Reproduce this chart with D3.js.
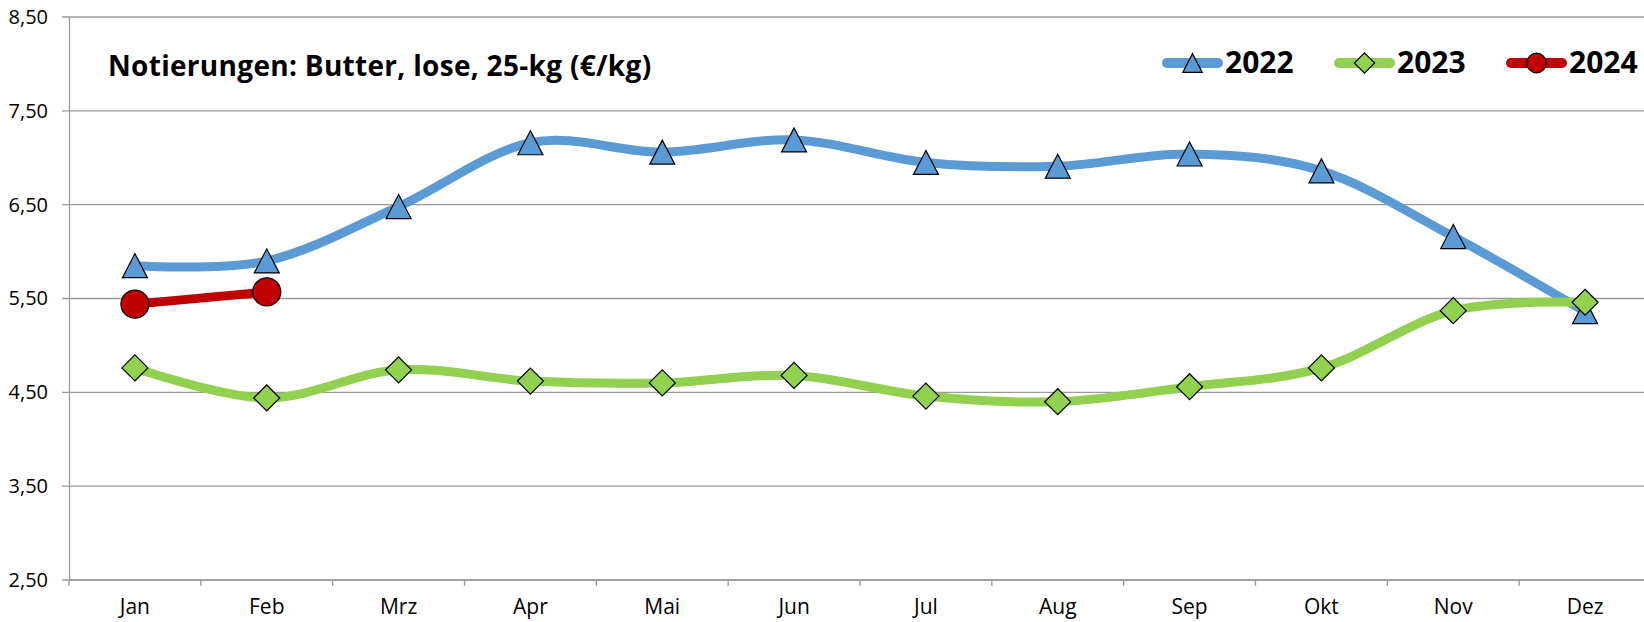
<!DOCTYPE html>
<html>
<head>
<meta charset="utf-8">
<script src="https://cdn.jsdelivr.net/npm/d3@7"></script>
<style>
  html, body { margin: 0; padding: 0; background: #fff; overflow: hidden; }
  text { font-family: "Open Sans", "Noto Sans", sans-serif; }
</style>
</head>
<body>
<div id="chart"></div>
<script>
// daten
const months = ["Jan", "Feb", "Mrz", "Apr", "Mai", "Jun", "Jul", "Aug", "Sep", "Okt", "Nov", "Dez"];
const values2022 = [5.85, 5.90, 6.48, 7.16, 7.06, 7.19, 6.95, 6.91, 7.04, 6.86, 6.16, 5.36];
const values2023 = [4.76, 4.44, 4.74, 4.62, 4.60, 4.68, 4.46, 4.40, 4.56, 4.76, 5.37, 5.46];
const values2024 = [5.44, 5.57];
const yTicks = [2.5, 3.5, 4.5, 5.5, 6.5, 7.5, 8.5];
const chartTitle = "Notierungen: Butter, lose, 25-kg (€/kg)";

const W = 1644, H = 622;
const margin = {top: 17, left: 69, bottom: 42};
const plotRight = 1651;  // rechte Kante liegt knapp ausserhalb des Bildes

const series = [
  {name: "2022", values: values2022, color: "#5B9BD5", width: 9, marker: "triangle"},
  {name: "2023", values: values2023, color: "#92D050", width: 9, marker: "diamond"},
  {name: "2024", values: values2024, color: "#C00000", width: 9, marker: "circle"}
];

const svg = d3.select("#chart").append("svg")
  .attr("width", W).attr("height", H);

const x = d3.scaleBand().domain(months).range([margin.left, plotRight]);
const y = d3.scaleLinear().domain([2.5, 8.5]).range([H - margin.bottom, margin.top]);
const cx = m => x(m) + x.bandwidth() / 2;

// gitterlinien
svg.append("g").selectAll("line")
  .data(yTicks)
  .join("line")
  .attr("x1", margin.left - 7).attr("x2", W)
  .attr("y1", d => y(d)).attr("y2", d => y(d))
  .attr("stroke", "#9a9a9a").attr("stroke-width", 1.3);

// y-achse
svg.append("g")
  .attr("transform", "translate(" + margin.left + ",0)")
  .call(d3.axisLeft(y).tickValues(yTicks).tickSize(0).tickPadding(21)
    .tickFormat(d => d3.format(".2f")(d).replace(".", ",")))
  .call(g => g.select(".domain").attr("stroke", "#9a9a9a").attr("stroke-width", 1.3))
  .call(g => g.attr("font-size", 20).attr("font-family", "'Open Sans', sans-serif"))
  .call(g => g.selectAll("text").attr("fill", "#000"));

// x-achse
const xAxis = svg.append("g")
  .attr("transform", "translate(0," + y(2.5) + ")");
xAxis.append("line")
  .attr("x1", margin.left).attr("x2", W)
  .attr("stroke", "#9a9a9a").attr("stroke-width", 1.3);
xAxis.selectAll(".tick")
  .data(months)
  .join("line")
  .attr("x1", d => x(d)).attr("x2", d => x(d))
  .attr("y1", 0).attr("y2", 6)
  .attr("stroke", "#9a9a9a").attr("stroke-width", 1.3);
xAxis.selectAll(".lbl")
  .data(months)
  .join("text")
  .attr("x", d => cx(d)).attr("y", 34)
  .attr("text-anchor", "middle")
  .attr("font-size", 21)
  .text(d => d);

// linien
const line = d3.line()
  .x((d, i) => cx(months[i]))
  .y(d => y(d))
  .curve(d3.curveCatmullRom.alpha(0));

function drawMarker(g, type, color, px, py, scale) {
  const s = scale || 1;
  if (type === "triangle") {
    const w = 25 * s, h = 24 * s;
    g.append("path")
      .attr("d", "M" + px + "," + (py - h / 2) + " L" + (px + w / 2) + "," + (py + h / 2) +
        " L" + (px - w / 2) + "," + (py + h / 2) + "Z")
      .attr("fill", color).attr("stroke", "#000").attr("stroke-width", 1.2);
  } else if (type === "diamond") {
    const r = 13 * s;
    g.append("path")
      .attr("d", "M" + px + "," + (py - r) + " L" + (px + r) + "," + py +
        " L" + px + "," + (py + r) + " L" + (px - r) + "," + py + "Z")
      .attr("fill", color).attr("stroke", "#000").attr("stroke-width", 1.2);
  } else {
    g.append("circle")
      .attr("cx", px).attr("cy", py).attr("r", 14 * s)
      .attr("fill", color).attr("stroke", "#000").attr("stroke-width", 1.2);
  }
}

series.forEach(function(s) {
  svg.append("path")
    .datum(s.values)
    .attr("d", line)
    .attr("fill", "none")
    .attr("stroke", s.color)
    .attr("stroke-width", s.width)
    .attr("stroke-linecap", "round");
});

series.forEach(function(s) {
  const g = svg.append("g");
  s.values.forEach(function(v, i) {
    drawMarker(g, s.marker, s.color, cx(months[i]), y(v));
  });
});

// titel
svg.append("text")
  .attr("x", 108).attr("y", 76)
  .attr("font-size", 28).attr("font-weight", "bold")
  .attr("letter-spacing", 0.3)
  .text(chartTitle);

// legende
const legendX = [1162, 1334, 1506];
series.forEach(function(s, i) {
  const g = svg.append("g").attr("transform", "translate(" + legendX[i] + ",63)");
  g.append("line")
    .attr("x1", 5).attr("x2", 56)
    .attr("stroke", s.color).attr("stroke-width", 10)
    .attr("stroke-linecap", "round");
  drawMarker(g, s.marker, s.color, 30.5, 0, s.marker === "circle" ? 0.7 : 0.78);
  g.append("text")
    .attr("x", 63).attr("y", 10)
    .attr("font-size", 30).attr("font-weight", "bold")
    .text(s.name);
});
</script>
</body>
</html>
